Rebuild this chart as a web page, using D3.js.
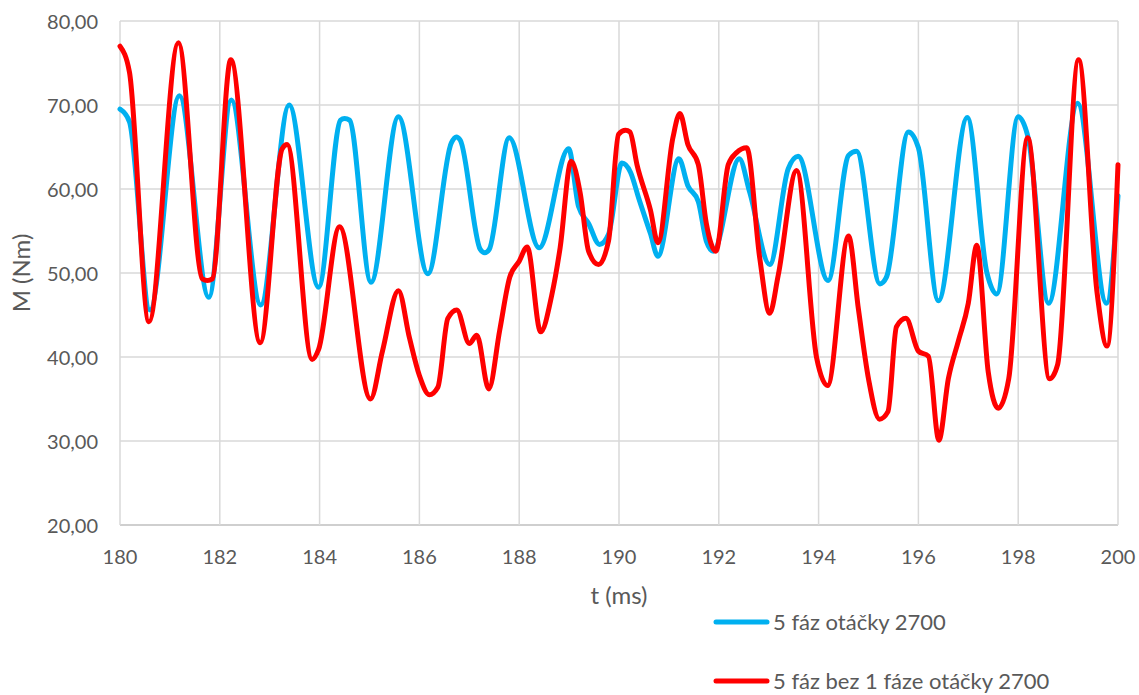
<!DOCTYPE html>
<html>
<head>
<meta charset="utf-8">
<script src="https://cdn.jsdelivr.net/npm/d3@7"></script>
<style>
  body { margin: 0; background: #fff; }
  text { font-family: Lato, "Open Sans", sans-serif; fill: #595959; }
</style>
</head>
<body>
<div id="chart"></div>
<script>
// values
const seriesNames = ["5 fáz otáčky 2700", "5 fáz bez 1 fáze otáčky 2700"];
const seriesColors = ["#00B0F0", "#FF0000"];

const tBlue = [180, 180.19, 180.6, 181.19, 181.78, 182.23, 182.82, 183.39, 183.98, 184.42, 184.5, 184.6, 185.03,
  185.58, 186.17, 186.64, 186.74, 186.82, 187.22, 187.31, 187.4, 187.8, 188.4, 188.99, 189.19, 189.39, 189.61, 189.79,
  190.06, 190.23, 190.4, 190.63, 190.78, 191.2, 191.38, 191.59, 191.75, 191.89, 192.41, 192.62, 193.02, 193.39, 193.59,
  194.19, 194.6, 194.76, 195.23, 195.36, 195.8, 196.0, 196.4, 196.98, 197.37, 197.57, 198.0, 198.2, 198.61, 199.19,
  199.77, 200];
const vBlue = [69.5, 68, 45.6, 71.1, 47.1, 70.6, 46.2, 70.0, 48.3, 68.2, 68.4, 68.2, 48.9,
  68.6, 49.9, 65.5, 66.2, 65.8, 52.8, 52.4, 52.8, 66.1, 53.0, 64.8, 57.9, 55.9, 53.4, 54.6,
  63.1, 62.0, 58.8, 54.7, 52.0, 63.6, 60.4, 58.5, 53.8, 52.6, 63.6, 59.6, 51.0, 62.4, 63.9,
  49.1, 64.0, 64.5, 48.7, 49.5, 66.8, 64.9, 46.7, 68.5, 50.1, 47.5, 68.6, 66.1, 46.4, 70.2,
  46.4, 59.2];

const tRed = [180, 180.19, 180.58, 181.17, 181.65, 181.75, 181.85, 182.22, 182.81, 183.25, 183.35, 183.85, 183.98,
  184.4, 185.02, 185.26, 185.58, 185.8, 186.0, 186.2, 186.37, 186.57, 186.75, 187.0, 187.15, 187.39, 187.61,
  187.81, 188.0, 188.16, 188.43, 188.65, 188.82, 189.04, 189.22, 189.39, 189.59, 189.79, 189.99, 190.13, 190.22,
  190.36, 190.63, 190.78, 191.08, 191.22, 191.38, 191.59, 191.75, 191.94, 192.19, 192.35, 192.56, 192.82, 193.02,
  193.19, 193.56, 193.96, 194.18, 194.6, 194.8, 195.0, 195.22, 195.39, 195.56, 195.75, 196.0, 196.2, 196.41, 196.6,
  196.8, 197.0, 197.17, 197.4, 197.6, 197.81, 198.19, 198.63, 198.79, 199.21, 199.58, 199.78, 200];
const vRed = [77.0, 73.9, 44.2, 77.4, 49.3, 49.1, 49.3, 75.4, 41.7, 64.8, 65.3, 39.7, 40.9,
  55.5, 35.0, 40.7, 47.9, 42.3, 37.8, 35.5, 36.4, 44.6, 45.6, 41.6, 42.6, 36.2, 43.2,
  49.5, 51.4, 53.1, 43.0, 47.3, 53.0, 63.3, 59.6, 52.6, 51.0, 53.8, 66.5, 67.0, 66.8,
  62.9, 57.5, 53.6, 66.1, 69.0, 65.3, 62.9, 55.9, 52.6, 62.9, 64.3, 64.9, 51.8, 45.2,
  49.7, 62.2, 39.9, 36.6, 54.4, 45.6, 37.4, 32.6, 33.5, 43.6, 44.6, 40.7, 40.1, 30.1, 37.4,
  41.9, 46.4, 53.3, 38.2, 33.9, 37.4, 66.1, 37.4, 39.1, 75.4, 47.7, 41.3, 62.9];

const xTicks = [180, 182, 184, 186, 188, 190, 192, 194, 196, 198, 200];
const yTicks = [20, 30, 40, 50, 60, 70, 80];

const width = 1139, height = 695;
const margin = { left: 120, right: 21, top: 21, bottom: 170 };

const svg = d3.select("#chart").append("svg")
  .attr("width", width)
  .attr("height", height);

const x = d3.scaleLinear().domain([180, 200]).range([margin.left, width - margin.right]);
const y = d3.scaleLinear().domain([20, 80]).range([height - margin.bottom, margin.top]);

const fmt = v => d3.format(".2f")(v).replace(".", ",");

// grid
svg.append("g")
  .selectAll("line")
  .data(yTicks)
  .join("line")
  .attr("x1", x(180)).attr("x2", x(200))
  .attr("y1", d => y(d)).attr("y2", d => y(d))
  .attr("stroke", d => d === 20 ? "#bfbfbf" : "#d9d9d9")
  .attr("stroke-width", 1.5);

svg.append("g")
  .selectAll("line")
  .data(xTicks)
  .join("line")
  .attr("x1", d => x(d)).attr("x2", d => x(d))
  .attr("y1", y(80)).attr("y2", y(20))
  .attr("stroke", "#d9d9d9")
  .attr("stroke-width", 1.5);

// tick labels
svg.append("g")
  .selectAll("text")
  .data(yTicks)
  .join("text")
  .attr("x", margin.left - 22)
  .attr("y", d => y(d) + 8)
  .attr("text-anchor", "end")
  .style("font-size", "20px")
  .text(fmt);

svg.append("g")
  .selectAll("text")
  .data(xTicks)
  .join("text")
  .attr("x", d => x(d))
  .attr("y", 564)
  .attr("text-anchor", "middle")
  .style("font-size", "20px")
  .text(d => d);

// axis titles
svg.append("text")
  .attr("x", x(190))
  .attr("y", 604)
  .attr("text-anchor", "middle")
  .style("font-size", "24px")
  .text("t (ms)");

svg.append("text")
  .attr("transform", `translate(30,${y(50)}) rotate(-90)`)
  .attr("text-anchor", "middle")
  .style("font-size", "24px")
  .text("M (Nm)");

// lines
const line = d3.line()
  .x(d => x(d[0]))
  .y(d => y(d[1]))
  .curve(d3.curveMonotoneX);

const series = [d3.zip(tBlue, vBlue), d3.zip(tRed, vRed)];

svg.append("g")
  .selectAll("path")
  .data(series)
  .join("path")
  .attr("d", line)
  .attr("fill", "none")
  .attr("stroke", (d, i) => seriesColors[i])
  .attr("stroke-width", 5)
  .attr("stroke-linejoin", "round")
  .attr("stroke-linecap", "round");

// legend
const legend = svg.append("g")
  .selectAll("g")
  .data(seriesNames)
  .join("g")
  .attr("transform", (d, i) => `translate(716,${622 + i * 59})`);

legend.append("line")
  .attr("x1", 0).attr("x2", 51)
  .attr("stroke", (d, i) => seriesColors[i])
  .attr("stroke-width", 5)
  .attr("stroke-linecap", "round");

legend.append("text")
  .attr("x", 57)
  .attr("y", 8)
  .style("font-size", "22px")
  .text(d => d);
</script>
</body>
</html>
